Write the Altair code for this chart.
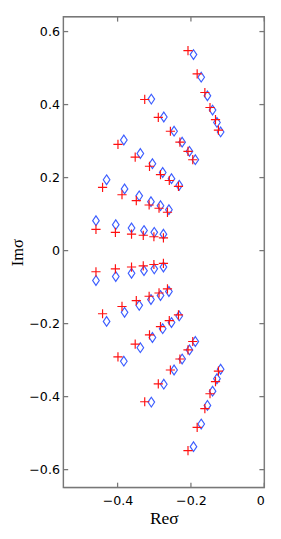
import altair as alt
import pandas as pd

# Red "+" markers (Re, Im)
red_re = [-0.208, -0.183, -0.162, -0.148, -0.133, -0.125,
          -0.326, -0.289, -0.256, -0.230, -0.208, -0.195,
          -0.399, -0.352, -0.313, -0.283, -0.259, -0.234,
          -0.441, -0.388, -0.349, -0.314, -0.287, -0.264,
          -0.459, -0.406, -0.362, -0.330, -0.301, -0.275,
          -0.459, -0.406, -0.362, -0.330, -0.301, -0.275,
          -0.441, -0.388, -0.349, -0.314, -0.287, -0.264,
          -0.399, -0.352, -0.313, -0.283, -0.259, -0.234,
          -0.326, -0.289, -0.256, -0.230, -0.208, -0.195,
          -0.208, -0.183, -0.162, -0.148, -0.133, -0.125]
red_im = [0.548, 0.484, 0.433, 0.392, 0.359, 0.330,
          0.414, 0.365, 0.327, 0.297, 0.272, 0.249,
          0.291, 0.256, 0.231, 0.208, 0.192, 0.176,
          0.173, 0.153, 0.137, 0.125, 0.116, 0.105,
          0.058, 0.050, 0.045, 0.042, 0.038, 0.035,
          -0.058, -0.050, -0.045, -0.042, -0.038, -0.035,
          -0.173, -0.153, -0.137, -0.125, -0.116, -0.105,
          -0.291, -0.256, -0.231, -0.208, -0.192, -0.176,
          -0.414, -0.365, -0.327, -0.297, -0.272, -0.249,
          -0.548, -0.484, -0.433, -0.392, -0.359, -0.330]

# Blue diamond markers (Re, Im)
blue_re = [-0.193, -0.172, -0.155, -0.141, -0.129, -0.119,
           -0.308, -0.274, -0.246, -0.224, -0.204, -0.188,
           -0.383, -0.338, -0.305, -0.277, -0.253, -0.232,
           -0.430, -0.381, -0.341, -0.309, -0.283, -0.260,
           -0.459, -0.405, -0.362, -0.328, -0.300, -0.275,
           -0.459, -0.405, -0.362, -0.328, -0.300, -0.275,
           -0.430, -0.381, -0.341, -0.309, -0.283, -0.260,
           -0.383, -0.338, -0.305, -0.277, -0.253, -0.232,
           -0.308, -0.274, -0.246, -0.224, -0.204, -0.188,
           -0.193, -0.172, -0.155, -0.141, -0.129, -0.119]
blue_im = [0.537, 0.475, 0.424, 0.385, 0.351, 0.325,
           0.415, 0.366, 0.327, 0.297, 0.272, 0.249,
           0.303, 0.266, 0.238, 0.214, 0.197, 0.179,
           0.194, 0.169, 0.150, 0.134, 0.123, 0.112,
           0.082, 0.071, 0.062, 0.055, 0.050, 0.045,
           -0.082, -0.071, -0.062, -0.055, -0.050, -0.045,
           -0.194, -0.169, -0.150, -0.134, -0.123, -0.112,
           -0.303, -0.266, -0.238, -0.214, -0.197, -0.179,
           -0.415, -0.366, -0.327, -0.297, -0.272, -0.249,
           -0.537, -0.475, -0.424, -0.385, -0.351, -0.325]

x_ticks = [-0.4, -0.2, 0.0]
y_ticks = [-0.6, -0.4, -0.2, 0.0, 0.2, 0.4, 0.6]

X_DOMAIN = [-0.548, 0.0]
Y_DOMAIN = [-0.649, 0.6406]
W, H = 207, 485
FRAME = "#777777"

red_df = pd.DataFrame({"re": red_re, "im": red_im})
blue_df = pd.DataFrame({"re": blue_re, "im": blue_im})
xt_df = pd.DataFrame({"t": x_ticks})
yt_df = pd.DataFrame({"t": y_ticks})

xscale = alt.Scale(domain=X_DOMAIN, nice=False, zero=False)
yscale = alt.Scale(domain=Y_DOMAIN, nice=False, zero=False)

xaxis = alt.Axis(values=x_ticks, format=".1~f", ticks=False, domain=False, grid=False,
                 labelFont="DejaVu Sans", labelFontSize=13, labelColor="black",
                 labelPadding=8, title="Reσ", titleFont="Liberation Serif",
                 titleFontSize=18, titleFontWeight="normal", titleColor="black",
                 titlePadding=2)
yaxis = alt.Axis(values=y_ticks, format=".1~f", ticks=False, domain=False, grid=False,
                 labelFont="DejaVu Sans", labelFontSize=13, labelColor="black",
                 labelPadding=4, title="Imσ", titleFont="Liberation Serif",
                 titleFontSize=17, titleFontWeight="normal", titleColor="black",
                 titlePadding=2)

plus_path = "M-1,0L1,0M0,-1L0,1"
diamond_path = "M0,-1L0.68,0L0,1L-0.68,0Z"

X = lambda f: alt.X(f, scale=xscale, axis=xaxis)
Y = lambda f: alt.Y(f, scale=yscale, axis=yaxis)

red = alt.Chart(red_df).mark_point(shape=plus_path, size=90, color="#ff1010",
                                   strokeWidth=1.2, filled=False, opacity=1).encode(
    x=X("re:Q"), y=Y("im:Q"))
blue = alt.Chart(blue_df).mark_point(shape=diamond_path, size=100, color="#3d5eff",
                                     strokeWidth=1.2, filled=False, opacity=1).encode(
    x=X("re:Q"), y=Y("im:Q"))

tk = dict(color=FRAME, strokeWidth=1.3)
bottom_ticks = alt.Chart(xt_df).mark_rule(**tk).encode(
    x=X("t:Q"), y=alt.value(H), y2=alt.value(H - 5))
top_ticks = alt.Chart(xt_df).mark_rule(**tk).encode(
    x=X("t:Q"), y=alt.value(0), y2=alt.value(5))
left_ticks = alt.Chart(yt_df).mark_rule(**tk).encode(
    y=Y("t:Q"), x=alt.value(0), x2=alt.value(5))
right_ticks = alt.Chart(yt_df).mark_rule(**tk).encode(
    y=Y("t:Q"), x=alt.value(W), x2=alt.value(W - 5))
frame = alt.Chart(xt_df.head(1)).mark_rect(fill=None, stroke=FRAME, strokeWidth=1.4).encode(
    x=alt.value(0), x2=alt.value(W), y=alt.value(0), y2=alt.value(H))

chart = alt.layer(blue, red, bottom_ticks, top_ticks, left_ticks, right_ticks, frame).properties(
    width=W, height=H,
    autosize=alt.AutoSizeParams(type="none"),
    padding={"left": 57, "top": 1, "right": 9, "bottom": 45},
).configure_view(strokeWidth=0).configure(background="white")

chart.save("out.html", embed_options={"renderer": "svg", "actions": False})
